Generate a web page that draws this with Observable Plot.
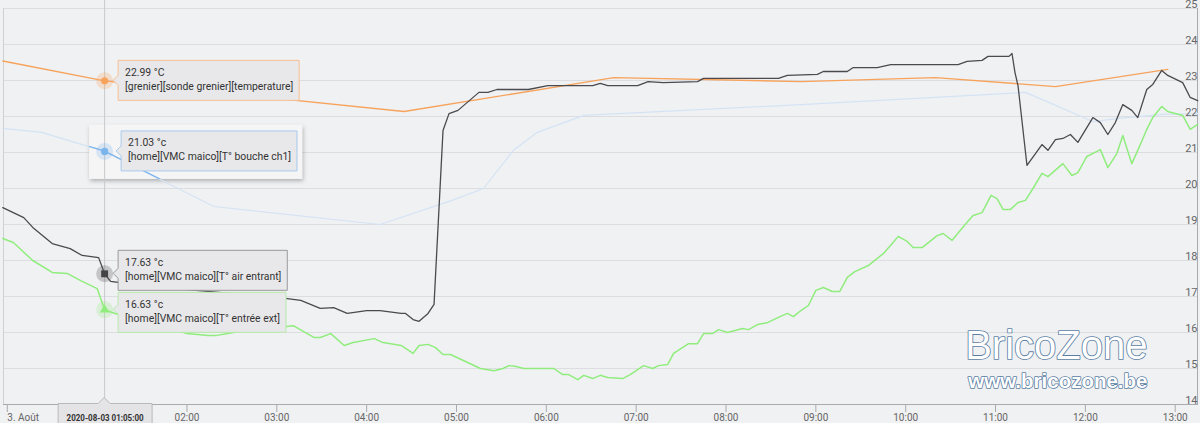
<!DOCTYPE html>
<html><head><meta charset="utf-8">
<script src="https://cdn.jsdelivr.net/npm/d3@7"></script>
<script src="https://cdn.jsdelivr.net/npm/@observablehq/plot@0.6"></script>
<style>
html,body{margin:0;padding:0;background:#f0f1f3;}
#chart{width:1200px;height:423px;overflow:hidden}
svg{display:block}
</style></head><body><div id="chart"></div>
<script>
// ---------- data (times are 2020-08-03, "23:xx" = 2020-08-02) ----------
const blackTimes = ["23:57","00:04","00:11","00:17","00:30","00:42","00:50","01:01","01:05","01:09","01:14","01:45","02:25","03:07","03:16","03:29","03:38","03:47","04:00","04:09","04:23","04:26","04:31","04:35","04:41","04:45","04:51","04:55","05:01","05:15","05:21","05:27","05:48","06:01","06:31","06:36","06:41","07:01","07:08","07:18","07:41","07:45","08:35","08:41","09:01","09:05","09:21","09:25","09:41","09:50","10:35","10:41","10:51","10:55","11:09","11:11","11:13","11:15","11:21","11:31","11:35","11:40","11:45","11:50","11:55","12:05","12:10","12:15","12:20","12:25","12:31","12:35","12:41","12:45","12:51","12:55","13:05","13:10","13:15"];
const blackValues = [19.47,19.33,19.19,18.92,18.47,18.33,18.14,18.08,17.63,17.42,17.39,17.25,17.1,16.94,16.89,16.67,16.69,16.53,16.61,16.61,16.53,16.53,16.36,16.31,16.53,16.78,21.61,22.08,22.17,22.67,22.67,22.75,22.75,22.86,22.86,22.92,22.86,22.86,22.97,22.94,22.97,23.06,23.06,23.14,23.17,23.25,23.25,23.36,23.36,23.44,23.44,23.53,23.56,23.67,23.67,23.75,23.22,22.86,20.64,21.22,21.06,21.36,21.39,21.5,21.28,21.97,21.83,21.5,21.83,22.33,22.17,21.97,22.75,22.89,23.28,23.14,22.94,22.53,22.44];

const greenTimes = ["23:57","00:04","00:17","00:30","00:40","00:49","01:00","01:05","01:12","01:36","02:00","02:14","02:20","02:31","02:44","03:00","03:11","03:25","03:29","03:36","03:45","03:51","04:05","04:11","04:23","04:31","04:35","04:41","04:46","04:51","04:56","05:16","05:25","05:31","05:35","05:39","05:45","06:05","06:11","06:15","06:21","06:25","06:31","06:36","06:41","06:51","06:56","07:05","07:11","07:15","07:21","07:25","07:35","07:41","07:45","07:51","07:55","08:01","08:11","08:15","08:21","08:28","08:35","08:41","08:45","08:50","08:55","09:00","09:05","09:11","09:16","09:21","09:26","09:35","09:45","09:51","09:55","10:01","10:05","10:11","10:21","10:25","10:31","10:41","10:45","10:51","10:57","11:01","11:05","11:10","11:15","11:20","11:25","11:31","11:35","11:45","11:51","11:55","12:01","12:10","12:15","12:21","12:25","12:31","12:35","12:41","12:45","12:51","12:55","13:05","13:10","13:15"];
const greenValues = [18.61,18.5,18.0,17.67,17.64,17.44,17.22,16.63,16.53,16.28,15.97,15.92,15.92,16.0,16.11,16.14,16.19,15.86,15.86,15.97,15.64,15.72,15.83,15.72,15.64,15.42,15.64,15.67,15.58,15.39,15.39,15.0,14.94,15.0,15.08,15.06,15.0,15.0,14.83,14.83,14.69,14.81,14.72,14.81,14.75,14.72,14.83,15.08,15.0,15.08,15.11,15.42,15.69,15.69,15.97,15.97,16.08,16.0,16.11,16.08,16.22,16.28,16.42,16.53,16.44,16.61,16.75,17.17,17.25,17.14,17.14,17.53,17.69,17.86,18.19,18.47,18.67,18.53,18.36,18.36,18.69,18.75,18.56,19.06,19.25,19.33,19.81,19.72,19.42,19.42,19.61,19.67,20.0,20.42,20.33,20.69,20.36,20.44,20.89,21.08,20.58,20.97,21.47,20.69,21.06,21.64,21.97,22.28,22.14,22.03,21.64,21.78];

const orangeTimes = ["23:57","01:05","04:25","06:45","08:50","10:20","11:40","12:55"];
const orangeValues = [23.54,22.99,22.14,23.08,22.97,23.08,22.83,23.31];

const blueTimes = ["23:57","00:23","01:05","02:18","04:09","04:57","05:18","05:38","05:54","06:25","08:50","11:20","12:05","12:21","12:51","13:15"];
const blueValues = [21.67,21.56,21.03,19.5,19.0,19.67,20.0,21.06,21.56,22.03,22.33,22.67,21.86,21.94,22.06,22.08];

const yTicks = [14,15,16,17,18,19,20,21,22,23,24,25];
const xTickTimes = ["01:00","02:00","03:00","04:00","05:00","06:00","07:00","08:00","09:00","10:00","11:00","12:00","13:00"];
const xTickLabels = ["","02:00","03:00","04:00","05:00","06:00","07:00","08:00","09:00","10:00","11:00","12:00","13:00"]; // 01:00 is hidden under the date tooltip
const dayLabelTime = "00:00";
const dayLabel = "3. Août";
const domainTimes = ["23:57:28","13:14:53"];

const hoverTime = "01:05";
const hoverLabel = "2020-08-03 01:05:00";
const tipValues = [22.99, 21.03, 17.63, 16.63];
const tipUnits = ["°C","°c","°c","°c"];
const tipNames = ["[grenier][sonde grenier][temperature]","[home][VMC maico][T° bouche ch1]","[home][VMC maico][T° air entrant]","[home][VMC maico][T° entrée ext]"];
const tipColors = ["#f7a35c","#7cb5ec","#434348","#90ed7d"];
const tipBorders = ["#f8bf91","#a9c9ee","#9a9a9c","#b6eaa9"];

// ---------- helpers ----------
function parseT(s){
  const [h,m,sec] = s.split(":").map(Number);
  return new Date(Date.UTC(2020,7,h>=20?2:3,h,m,sec||0));
}
const series = (times, values, name) => times.map((t,i)=>({date:parseT(t), value:values[i], name}));
const black = series(blackTimes, blackValues, "air entrant");
const green = series(greenTimes, greenValues, "entrée ext");
const orange = series(orangeTimes, orangeValues, "grenier");
const blue = series(blueTimes, blueValues, "bouche ch1");
const hoverDate = parseT(hoverTime);
const tips = tipValues.map((v,i)=>({date:hoverDate, value:v, color:tipColors[i], border:tipBorders[i], line1:`${v.toFixed(2)} ${tipUnits[i]}`, line2:tipNames[i]}));
const xTicks = xTickTimes.map(parseT);
const xLabelOf = new Map(xTicks.map((d,i)=>[+d, xTickLabels[i]]));

const FONT = "Roboto, sans-serif";
const TIP_SIZE = 10.4;
const ctx = document.createElement("canvas").getContext("2d");
function measure(t, size, weight){ ctx.font = `${weight||"normal"} ${size}px Roboto`; return ctx.measureText(t).width; }

// layout offsets for tooltip boxes (relative to their point)
const tipTop = [-20,-20,-23,-17];
const tipLeft = [14,17,14,14];

function outerBox(index, {x, y}) {
  const g = d3.create("svg:g");
  const px = x(hoverDate), py = y(tipValues[1]);
  g.append("defs").append("filter").attr("id","shadow").attr("x","-10%").attr("y","-20%").attr("width","130%").attr("height","150%")
    .append("feDropShadow").attr("dx",1).attr("dy",2).attr("stdDeviation",2).attr("flood-color","#000").attr("flood-opacity",0.28);
  g.append("rect").attr("x",px-15).attr("y",py-26).attr("width",213).attr("height",54)
    .attr("fill","#f5f5f6").attr("filter","url(#shadow)");
  return g.node();
}

function blueStrong(index, {x, y}) {
  const g = d3.create("svg:g");
  const px = x(hoverDate), py = y(tipValues[1]);
  g.append("clipPath").attr("id","bclip").append("rect").attr("x",px-15).attr("y",py-26).attr("width",213).attr("height",54);
  const line = d3.line().x(d=>x(d.date)).y(d=>y(d.value));
  g.append("path").attr("d", line(blue)).attr("fill","none").attr("stroke","#7cb5ec").attr("stroke-width",1.3).attr("clip-path","url(#bclip)");
  return g.node();
}

function tooltips(index, {x, y}) {
  const g = d3.create("svg:g").attr("font-family", FONT).attr("font-size", TIP_SIZE).attr("fill","#333").attr("text-anchor","start");
  const px = x(hoverDate);
  tips.forEach((d,i)=>{
    const py = y(d.value);
    const top = py + tipTop[i], h = 40;
    const left = px + tipLeft[i];
    const w = Math.max(measure(d.line1,TIP_SIZE), measure(d.line2,TIP_SIZE)) + 13;
    const tipX = left - 5;
    g.append("path")
      .attr("d", `M${left},${top}H${left+w}V${top+h}H${left}V${py+5}L${tipX},${py}L${left},${py-5}Z`)
      .attr("fill","#e8e8ea").attr("stroke", d.border).attr("stroke-width",1);
    g.append("text").attr("x", left+7).attr("y", top+15.5).attr("text-anchor","start").text(d.line1);
    g.append("text").attr("x", left+7).attr("y", top+29.5).attr("text-anchor","start").text(d.line2);
  });
  return g.node();
}

function xTooltip(index, {x, y}, values, dims) {
  const g = d3.create("svg:g");
  const px = x(hoverDate);
  const base = dims.height - dims.marginBottom;
  const w = 94, top = base - 0.5;
  const l = px - 46;
  g.append("path").attr("d", `M${l},${top}H${px-6}L${px},${top-6}L${px+6},${top}H${l+w}V${top+24}H${l}Z`)
    .attr("fill","#e4e4e6").attr("stroke","#b9b9bb");
  g.append("text").attr("x", px+1).attr("y", base+16.5).attr("text-anchor","middle")
    .attr("font-family", FONT).attr("font-size", 9.5).attr("font-weight","bold").attr("fill","#333")
    .attr("textLength", 77).attr("lengthAdjust","spacingAndGlyphs").text(hoverLabel);
  return g.node();
}

const plot = Plot.plot({
  width: 1200, height: 423,
  marginLeft: 3, marginRight: 3, marginTop: 8, marginBottom: 19,
  style: {background: "#f0f1f3", fontFamily: FONT, overflow: "hidden"},
  x: {type: "utc", domain: domainTimes.map(parseT), axis: null},
  y: {domain: [14, 25], axis: null},
  marks: [
    Plot.ruleY(yTicks, {stroke: "#dcdde1", strokeWidth: 1}),
    Plot.frame({anchor: "left", stroke: "#cfd0d3"}),
    Plot.frame({anchor: "right", stroke: "#a9aaad"}),
    outerBox,
    Plot.line(blue, {x: "date", y: "value", stroke: "#d4e3f4", strokeWidth: 1.2}),
    Plot.line(orange, {x: "date", y: "value", stroke: "#f7a35c", strokeWidth: 1.4}),
    Plot.line(black, {x: "date", y: "value", stroke: "#4a4a4f", strokeWidth: 1.3}),
    Plot.line(green, {x: "date", y: "value", stroke: "#90ed7d", strokeWidth: 1.5}),
    Plot.ruleX([hoverDate], {stroke: "#c9c9cc", strokeWidth: 1, insetTop: -8}),
    blueStrong,
    Plot.dot(tips, {x: "date", y: "value", r: 8.5, fill: "color", fillOpacity: 0.25, stroke: null}),
    Plot.dot(tips.filter((d,i)=>i<2), {x: "date", y: "value", r: 3.6, fill: "color"}),
    Plot.dot(tips.filter((d,i)=>i===2), {x: "date", y: "value", r: 3.9, symbol: "square", fill: "color"}),
    Plot.dot(tips.filter((d,i)=>i===3), {x: "date", y: "value", r: 3.6, symbol: "triangle", fill: "color"}),
    tooltips,
    Plot.ruleY([14], {stroke: "#a9aaad"}),
    Plot.axisX(xTicks, {tickSize: 8, tickPadding: 1.5, fontSize: 10, stroke: "#a9aaad", fill: "#666", tickFormat: d => xLabelOf.get(+d)}),
    Plot.axisX([parseT(dayLabelTime)], {tickSize: 8, tickPadding: 1.5, fontSize: 10, stroke: "#a9aaad", fill: "#666", textAnchor: "start", tickFormat: () => dayLabel}),
    xTooltip,
    Plot.text(yTicks, {y: d => d, text: d => String(d), frameAnchor: "right", textAnchor: "end", lineAnchor: "bottom", dy: -1, fill: "#666", fontSize: 11}),
    Plot.text(["BricoZone"], {text: d => d, frameAnchor: "bottom-right", textAnchor: "end", lineAnchor: "bottom", dx: -50, dy: -46, fontSize: 40, fontFamily: "Liberation Sans, Arial, sans-serif", fill: "#ffffff", stroke: "#5a7ea3", strokeWidth: 1.7}),
    Plot.text(["www.bricozone.be"], {text: d => d, frameAnchor: "bottom-right", textAnchor: "end", lineAnchor: "bottom", dx: -50, dy: -17, fontSize: 20.5, fontWeight: "bold", fontFamily: "Liberation Sans, Arial, sans-serif", fill: "#ffffff", stroke: "#5a7ea3", strokeWidth: 1.6})
  ]
});
document.getElementById("chart").appendChild(plot);
</script></body></html>
